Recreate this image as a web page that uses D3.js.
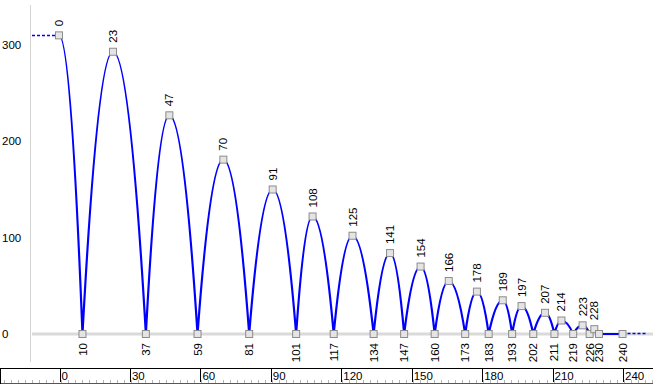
<!DOCTYPE html>
<html>
<head>
<meta charset="utf-8">
<script src="https://cdn.jsdelivr.net/npm/d3@7"></script>
<style>
  body { margin: 0; background: #fff; }
  text { font-family: "Liberation Sans", Arial, sans-serif; font-size: 11.5px; fill: #000; }
</style>
</head>
<body>
<div id="chart"></div>
<script>
// extrema of the bouncing curve: point index and height
const indices = [0, 10, 23, 37, 47, 59, 70, 81, 91, 101, 108, 117, 125, 134, 141, 147, 154, 160,
    166, 173, 178, 183, 189, 193, 197, 202, 207, 211, 214, 219, 223, 226, 228, 230, 240];
const heights = [310, 0, 293, 0, 227, 0, 181, 0, 150, 0, 122, 0, 102, 0, 84, 0, 70, 0,
    55, 0, 44, 0, 35, 0, 29, 0, 22, 0, 14, 0, 9, 0, 5, 0, 0];
const y_ticks = [0, 100, 200, 300];
const ruler_ticks = [0, 30, 60, 90, 120, 150, 180, 210, 240];

const chart_width = 653;
const chart_height = 385;

const points = indices.map((d, i) => ({ idx: d, h: heights[i] }));

const svg = d3.select('#chart')
    .append('svg')
    .attr('width', chart_width)
    .attr('height', chart_height);

// Scales
const x_scale = d3.scaleLinear()
    .domain([0, 240])
    .range([59, 622.5]);

const y_scale = d3.scaleLinear()
    .domain([0, 300])
    .range([334, 45]);

const ruler_scale = d3.scaleLinear()
    .domain([0, 240])
    .range([60.5, 624]);

// y axis line
svg.append('line')
    .attr('x1', 30.5).attr('x2', 30.5)
    .attr('y1', 5).attr('y2', 362)
    .attr('stroke', '#d4d4d4')
    .attr('stroke-width', 1);

// zero line
svg.append('line')
    .attr('x1', 32).attr('x2', chart_width)
    .attr('y1', y_scale(0)).attr('y2', y_scale(0))
    .attr('stroke', '#dadada')
    .attr('stroke-width', 3);

// y labels
svg.selectAll('.ylab')
    .data(y_ticks)
    .enter()
    .append('text')
    .attr('class', 'ylab')
    .attr('x', 2)
    .attr('y', d => y_scale(d))
    .attr('dy', '0.35em')
    .text(d => d);

// dashed extensions before first / after last point
const first = points[0], last = points[points.length - 1];
svg.append('line')
    .attr('x1', 32).attr('x2', x_scale(first.idx))
    .attr('y1', Math.round(y_scale(first.h)) + 0.5).attr('y2', Math.round(y_scale(first.h)) + 0.5)
    .attr('stroke', '#0000ff')
    .attr('stroke-width', 1.3)
    .attr('stroke-dasharray', '3,2');
svg.append('line')
    .attr('x1', x_scale(last.idx)).attr('x2', 646)
    .attr('y1', Math.round(y_scale(last.h)) - 0.5).attr('y2', Math.round(y_scale(last.h)) - 0.5)
    .attr('stroke', '#0000ff')
    .attr('stroke-width', 1.3)
    .attr('stroke-dasharray', '3,2');

// curve: parabolic arcs between extrema
const path = d3.path();
path.moveTo(x_scale(first.idx), y_scale(first.h));
for (let i = 1; i < points.length; i++) {
    const a = points[i - 1], b = points[i];
    const cx = (x_scale(a.idx) + x_scale(b.idx)) / 2;
    const cy = Math.min(y_scale(a.h), y_scale(b.h));
    path.quadraticCurveTo(cx, cy, x_scale(b.idx), y_scale(b.h));
}
svg.append('path')
    .attr('d', path.toString())
    .attr('fill', 'none')
    .attr('stroke', '#0000ff')
    .attr('stroke-width', 2.2);

// markers
svg.selectAll('rect.marker')
    .data(points)
    .enter()
    .append('rect')
    .attr('class', 'marker')
    .attr('x', d => x_scale(d.idx) - 3.5)
    .attr('y', d => y_scale(d.h) - 3.5)
    .attr('width', 7)
    .attr('height', 7)
    .attr('fill', '#e4e4e4')
    .attr('stroke', '#8c8c8c')
    .attr('stroke-width', 1);

// point labels
svg.selectAll('text.plab')
    .data(points)
    .enter()
    .append('text')
    .attr('class', 'plab')
    .attr('transform', d => d.h > 0
        ? `translate(${x_scale(d.idx)},${y_scale(d.h) - 9}) rotate(-90)`
        : `translate(${x_scale(d.idx)},${y_scale(d.h) + 9}) rotate(-90)`)
    .attr('text-anchor', d => d.h > 0 ? 'start' : 'end')
    .attr('dy', '0.35em')
    .text(d => d.idx);

// ruler at the bottom
const ruler = svg.append('g');
ruler.append('line')
    .attr('x1', 0).attr('x2', chart_width)
    .attr('y1', 368.5).attr('y2', 368.5)
    .attr('stroke', '#000');
ruler.append('line')
    .attr('x1', 0).attr('x2', chart_width)
    .attr('y1', 383.5).attr('y2', 383.5)
    .attr('stroke', '#555');
ruler.append('line')
    .attr('x1', 0.5).attr('x2', 0.5)
    .attr('y1', 368).attr('y2', 384)
    .attr('stroke', '#000');

ruler.selectAll('line.minor')
    .data(d3.range(-24, 256, 3))
    .enter()
    .append('line')
    .attr('class', 'minor')
    .attr('x1', d => Math.round(ruler_scale(d)) + 0.5)
    .attr('x2', d => Math.round(ruler_scale(d)) + 0.5)
    .attr('y1', 380).attr('y2', 383)
    .attr('stroke', '#b4b4b4');

ruler.selectAll('line.major')
    .data(ruler_ticks)
    .enter()
    .append('line')
    .attr('class', 'major')
    .attr('x1', d => Math.round(ruler_scale(d)) - 0.5)
    .attr('x2', d => Math.round(ruler_scale(d)) - 0.5)
    .attr('y1', 369).attr('y2', 382)
    .attr('stroke', '#000');

ruler.selectAll('text')
    .data(ruler_ticks)
    .enter()
    .append('text')
    .attr('x', d => ruler_scale(d) + 1)
    .attr('y', 380)
    .attr('fill', '#202040')
    .text(d => d);
</script>
</body>
</html>
